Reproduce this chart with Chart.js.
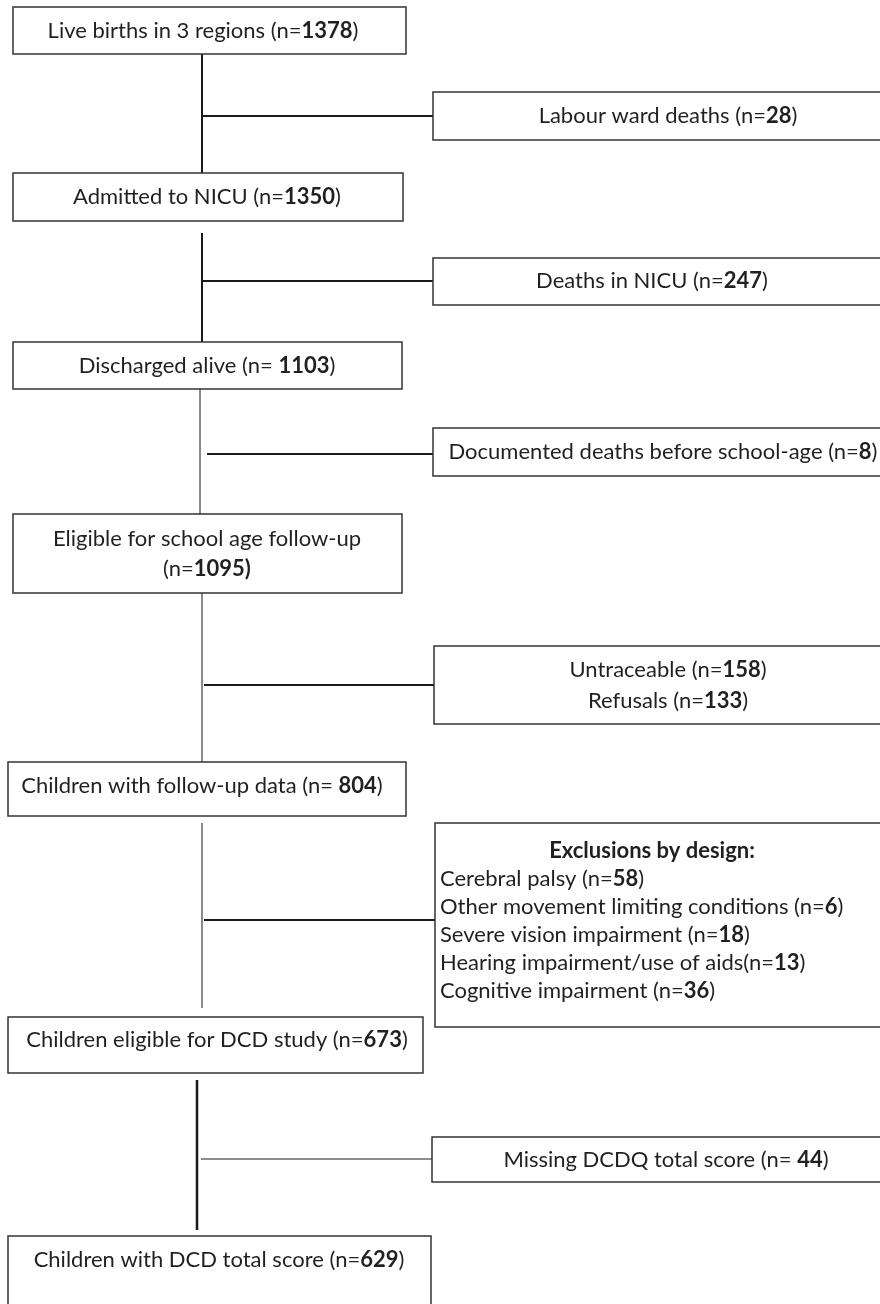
<!DOCTYPE html>
<html>
<head>
<meta charset="utf-8">
<script src="https://cdn.jsdelivr.net/npm/chart.js@4/dist/chart.umd.min.js"></script>
<style>
    html, body { margin: 0; padding: 0; background: #fff; }
    #wrap { width: 880px; height: 1304px; position: relative; }
</style>
</head>
<body>
<div id="wrap"><canvas id="flowChart"></canvas></div>
<script>
// ========== FLOW DATA ==========
const stageLabels = ['Live births in 3 regions', 'Admitted to NICU', 'Discharged alive',
    'Eligible for school age follow-up', 'Children with follow-up data',
    'Children eligible for DCD study', 'Children with DCD total score'];
const stageCounts = [1378, 1350, 1103, 1095, 804, 673, 629];
const stageSep = ['(n=', '(n=', '(n= ', '(n=', '(n= ', '(n=', '(n='];

const exitLabels = ['Labour ward deaths', 'Deaths in NICU', 'Documented deaths before school-age',
    'Untraceable', 'Refusals', 'Missing DCDQ total score'];
const exitCounts = [28, 247, 8, 158, 133, 44];
const exitSep = ['(n=', '(n=', '(n=', '(n=', '(n=', '(n= '];

const designTitle = 'Exclusions by design:';
const designLabels = ['Cerebral palsy', 'Other movement limiting conditions', 'Severe vision impairment',
    'Hearing impairment/use of aids', 'Cognitive impairment'];
const designCounts = [58, 6, 18, 13, 36];
const designSep = [' (n=', ' (n=', ' (n=', '(n=', ' (n='];

// ========== LAYOUT (page units, y downwards) ==========
const stageBoxes = [
    { x0: 13, x1: 406, y0: 7, y1: 54, cx: 203, ty: [31] },
    { x0: 13, x1: 403, y0: 173, y1: 221, cx: 207, ty: [197] },
    { x0: 13, x1: 402, y0: 342, y1: 389, cx: 207, ty: [366] },
    { x0: 13, x1: 402, y0: 514, y1: 593, cx: 207, ty: [539, 569], split: true },
    { x0: 8, x1: 406, y0: 762, y1: 816, cx: 202, ty: [786] },
    { x0: 8, x1: 423, y0: 1017, y1: 1073, cx: 217, ty: [1040] },
    { x0: 8, x1: 431, y0: 1236, y1: 1312, cx: 219, ty: [1260] }
];
const exitBoxes = [
    { x0: 433, x1: 910, y0: 92, y1: 140, cx: 668, ty: [116], items: [0] },
    { x0: 433, x1: 910, y0: 258, y1: 305, cx: 652, ty: [281], items: [1] },
    { x0: 433, x1: 910, y0: 428, y1: 476, cx: 663, ty: [452], items: [2] },
    { x0: 434, x1: 910, y0: 646, y1: 724, cx: 668, ty: [670, 701], items: [3, 4] },
    { x0: 432, x1: 910, y0: 1137, y1: 1182, cx: 666, ty: [1160], items: [5] }
];
const designBox = { x0: 435, x1: 910, y0: 823, y1: 1027, cx: 652, left: 440, titleY: 851, firstY: 879, step: 28 };

// connectors: [x0, y0, x1, y1, width, colour]
const connectors = [
    [202, 54, 202, 173, 2, '#1a1a1a'],
    [202, 116, 433, 116, 2, '#1a1a1a'],
    [202, 233, 202, 342, 2, '#1a1a1a'],
    [202, 281, 433, 281, 2, '#1a1a1a'],
    [200, 389, 200, 514, 1, '#7a7a7a'],
    [207, 454, 433, 454, 2, '#1a1a1a'],
    [202, 593, 202, 762, 1, '#7a7a7a'],
    [204, 685, 434, 685, 2, '#1a1a1a'],
    [202, 823, 202, 1008, 1, '#7a7a7a'],
    [204, 920, 435, 920, 2, '#1a1a1a'],
    [197, 1080, 197, 1230, 2.5, '#1a1a1a'],
    [201, 1159, 432, 1159, 1, '#1a1a1a']
];

const FONT = 'Lato, "Open Sans", sans-serif';
const FONT_SIZE = 22;
const TEXT_COLOR = '#231f20';

function drawRich(ctx, parts, x, y, align) {
    let total = 0;
    parts.forEach(p => {
        ctx.font = (p.bold ? 'bold ' : '') + FONT_SIZE + 'px ' + FONT;
        p.w = ctx.measureText(p.t).width;
        total += p.w;
    });
    let cur = align === 'left' ? x : x - total / 2;
    parts.forEach(p => {
        ctx.font = (p.bold ? 'bold ' : '') + FONT_SIZE + 'px ' + FONT;
        ctx.fillText(p.t, cur, y);
        cur += p.w;
    });
}

function strokeBox(ctx, xs, ys, b) {
    const left = xs.getPixelForValue(b.x0), right = xs.getPixelForValue(b.x1);
    const top = ys.getPixelForValue(b.y0), bottom = ys.getPixelForValue(b.y1);
    ctx.fillStyle = '#fff';
    ctx.fillRect(left, top, right - left, bottom - top);
    ctx.strokeStyle = '#333';
    ctx.lineWidth = 1.5;
    ctx.strokeRect(left, top, right - left, bottom - top);
}

const boxPlugin = {
    id: 'flowBoxes',
    afterDatasetsDraw(chart) {
        const ctx = chart.ctx;
        const xs = chart.scales.x, ys = chart.scales.y;
        ctx.save();
        ctx.textBaseline = 'middle';

        // main stages
        stageBoxes.forEach((b, i) => {
            strokeBox(ctx, xs, ys, b);
            ctx.fillStyle = TEXT_COLOR;
            const cx = xs.getPixelForValue(b.cx);
            if (b.split) {
                drawRich(ctx, [{ t: stageLabels[i] }], cx, ys.getPixelForValue(b.ty[0]));
                drawRich(ctx, [{ t: stageSep[i] }, { t: stageCounts[i] + ')', bold: true }], cx, ys.getPixelForValue(b.ty[1]));
            } else {
                drawRich(ctx, [{ t: stageLabels[i] + ' ' + stageSep[i] }, { t: String(stageCounts[i]), bold: true }, { t: ')' }],
                    cx, ys.getPixelForValue(b.ty[0]));
            }
        });

        // exits
        exitBoxes.forEach(b => {
            strokeBox(ctx, xs, ys, b);
            ctx.fillStyle = TEXT_COLOR;
            b.items.forEach((k, j) => {
                drawRich(ctx, [{ t: exitLabels[k] + ' ' + exitSep[k] }, { t: String(exitCounts[k]), bold: true }, { t: ')' }],
                    xs.getPixelForValue(b.cx), ys.getPixelForValue(b.ty[j]));
            });
        });

        // exclusions by design
        strokeBox(ctx, xs, ys, designBox);
        ctx.fillStyle = TEXT_COLOR;
        drawRich(ctx, [{ t: designTitle, bold: true }], xs.getPixelForValue(designBox.cx), ys.getPixelForValue(designBox.titleY));
        designLabels.forEach((lab, i) => {
            drawRich(ctx, [{ t: lab + designSep[i] }, { t: String(designCounts[i]), bold: true }, { t: ')' }],
                xs.getPixelForValue(designBox.left), ys.getPixelForValue(designBox.firstY + i * designBox.step), 'left');
        });
        ctx.restore();
    }
};

const datasets = connectors.map(c => ({
    data: [{ x: c[0], y: c[1] }, { x: c[2], y: c[3] }],
    showLine: true,
    borderColor: c[5],
    borderWidth: c[4],
    pointRadius: 0,
    fill: false
}));

new Chart(document.getElementById('flowChart'), {
    type: 'scatter',
    data: { datasets: datasets },
    options: {
        responsive: true,
        maintainAspectRatio: false,
        animation: false,
        layout: { padding: 0 },
        plugins: { legend: { display: false }, tooltip: { enabled: false } },
        scales: {
            x: { type: 'linear', min: 0, max: 880, display: false },
            y: { type: 'linear', min: 0, max: 1304, reverse: true, display: false }
        }
    },
    plugins: [boxPlugin]
});
</script>
</body>
</html>
